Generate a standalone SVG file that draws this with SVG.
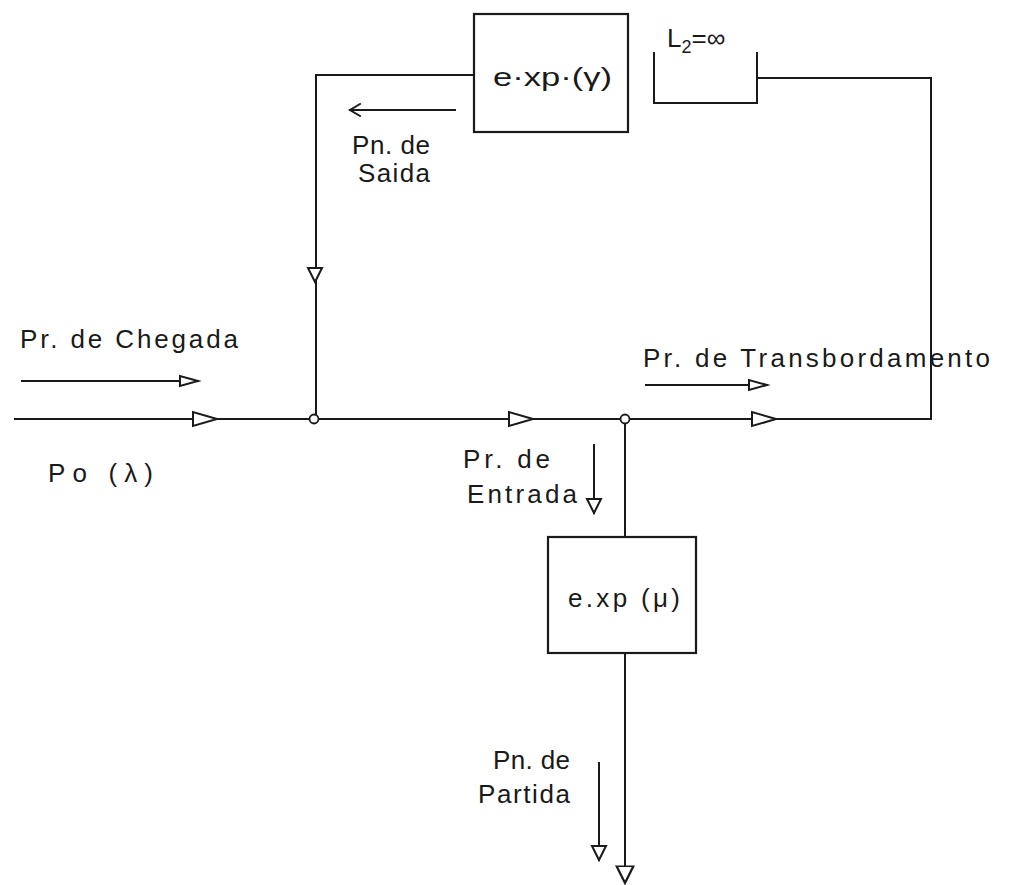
<svg xmlns="http://www.w3.org/2000/svg" width="1013" height="885" viewBox="0 0 1013 885">
<style>
.ln{fill:none;stroke:#1a1a1a;stroke-width:2;stroke-linecap:square}
.box{fill:#fff;stroke:#1a1a1a;stroke-width:2.2}
.tri{fill:#fff;stroke:#1a1a1a;stroke-width:2;stroke-linejoin:miter}
.jn{fill:#fff;stroke:#1a1a1a;stroke-width:1.8}
text{font-family:"Liberation Sans","DejaVu Sans",sans-serif;fill:#1a1a1a;font-size:26px}
</style>
<defs>
<path id="big" d="M0,0 L-24,-7 L-24,7 Z"/>
<path id="mid" d="M0,0 L-14,-7 L-14,7 Z"/>
<path id="sm" d="M0,0 L-18,-5 L-18,5 Z"/>
</defs>
<rect width="1013" height="885" fill="#fff"/>
<g id="connectors">
<path class="ln" d="M15,419 H931 V78 H757"/>
<path class="ln" d="M474,75 H316 V419"/>
<path class="ln" d="M625,419 V537"/>
<path class="ln" d="M625,653 V880"/>
<use href="#big" class="tri" transform="translate(217,419)"/>
<use href="#big" class="tri" transform="translate(533,419)"/>
<use href="#big" class="tri" transform="translate(776,419)"/>
<use href="#mid" class="tri" transform="translate(315,282) rotate(90)"/>
<use href="#big" class="tri" transform="translate(625,883) rotate(90) scale(0.7,1.2)"/>
</g>
<g id="label-arrows">
<path class="ln" d="M22,381 H198"/>
<use href="#sm" class="tri" transform="translate(198,381)"/>
<path class="ln" d="M646,385 H767"/>
<use href="#sm" class="tri" transform="translate(767,385)"/>
<path class="ln" d="M350,110 H455"/>
<path class="ln" d="M360,104 L350,110 L360,116"/>
<path class="ln" d="M594,445 V513"/>
<use href="#mid" class="tri" transform="translate(594,513) rotate(90)"/>
<path class="ln" d="M599,763 V860"/>
<use href="#mid" class="tri" transform="translate(599,860) rotate(90)"/>
</g>
<g id="node-exp-gamma">
<rect class="box" x="474" y="14" width="154" height="118"/>
<text x="493" y="86" font-size="30" textLength="119" lengthAdjust="spacingAndGlyphs">e·xp·(γ)</text>
</g>
<g id="node-L2">
<path class="ln" d="M654,53 V103 H757 V53"/>
<text x="667" y="47" font-size="27">L<tspan font-size="18" dy="6">2</tspan><tspan dy="-6">=∞</tspan></text>
</g>
<g id="node-exp-mu">
<rect class="box" x="548" y="537" width="148" height="116"/>
<text x="568" y="607" font-size="30" textLength="112" lengthAdjust="spacing">e.xp (μ)</text>
</g>
<g id="junction-1"><circle class="jn" cx="314" cy="419" r="4.5"/></g>
<g id="junction-2"><circle class="jn" cx="625" cy="419" r="4.5"/></g>
<g id="labels">
<text x="20" y="348" font-size="28" textLength="218" lengthAdjust="spacing">Pr. de Chegada</text>
<text x="48" y="482" font-size="30" textLength="105" lengthAdjust="spacing">Po (λ)</text>
<text x="643" y="367" font-size="28" textLength="347" lengthAdjust="spacing">Pr. de Transbordamento</text>
<text x="352" y="154" font-size="22" textLength="78" lengthAdjust="spacing">Pn. de</text>
<text x="358" y="182" font-size="22" textLength="72" lengthAdjust="spacing">Saida</text>
<text x="463" y="468" textLength="87" lengthAdjust="spacing">Pr. de</text>
<text x="467" y="503" textLength="110" lengthAdjust="spacing">Entrada</text>
<text x="493" y="769" textLength="77" lengthAdjust="spacing">Pn. de</text>
<text x="478" y="803" textLength="92" lengthAdjust="spacing">Partida</text>
</g>
</svg>
